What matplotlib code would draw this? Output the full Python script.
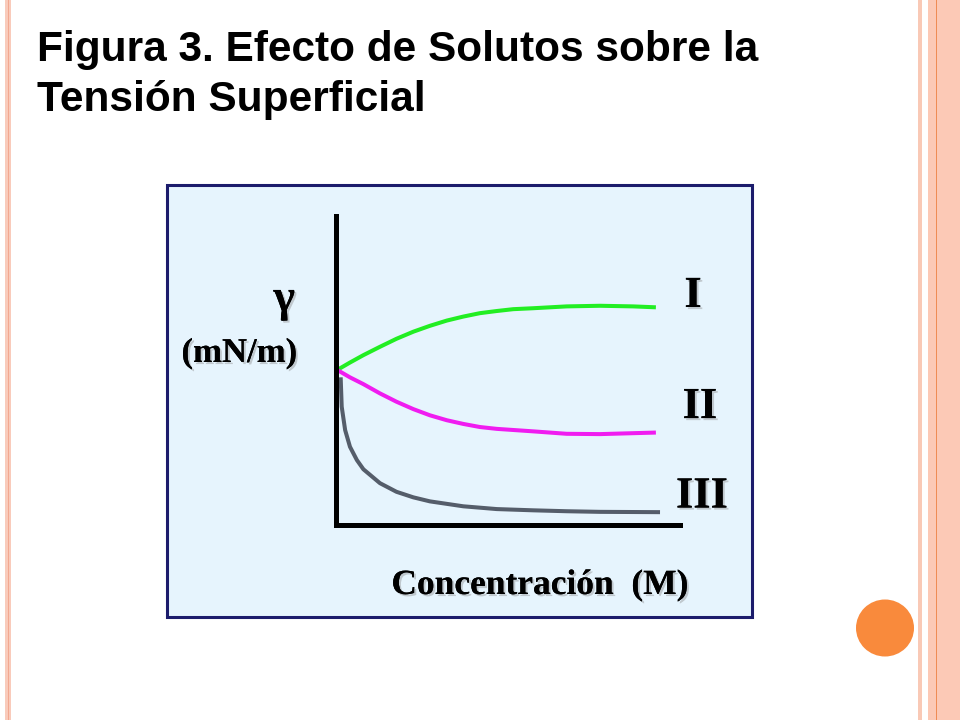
import matplotlib
matplotlib.use("Agg")
import matplotlib.pyplot as plt
import matplotlib.patheffects as pe
from matplotlib.patches import Rectangle, Ellipse

# curve data (concentration and gamma in arbitrary units)
conc_I = [0.05, 0.42, 0.81, 1.29, 1.77, 2.26, 2.74, 3.23, 3.71, 4.19, 4.68,
          5.16, 5.73, 6.71, 7.68, 8.64, 9.30]
gamma_I = [50.1, 52.5, 54.9, 57.6, 60.2, 62.5, 64.4, 66.1, 67.4, 68.5, 69.2,
           69.8, 70.1, 70.7, 70.9, 70.7, 70.4]

conc_II = [0.05, 0.42, 0.81, 1.29, 1.77, 2.26, 2.74, 3.23, 3.71, 4.19, 4.68,
           5.73, 6.71, 7.68, 8.64, 9.30]
gamma_II = [50.1, 47.7, 45.5, 42.5, 39.8, 37.4, 35.4, 33.8, 32.6, 31.6, 31.0,
            30.2, 29.4, 29.3, 29.6, 29.8]

conc_III = [0.15, 0.18, 0.28, 0.42, 0.62, 0.81, 1.29, 1.77, 2.26, 2.74, 3.71,
            4.68, 5.73, 6.71, 7.68, 9.42]
gamma_III = [47.7, 38.2, 30.6, 25.2, 20.9, 17.9, 13.4, 10.6, 8.8, 7.5, 5.9,
             5.0, 4.6, 4.3, 4.1, 4.0]

labels = ["I", "II", "III"]
colors = ["#22ee22", "#f01cf0", "#555d6a"]

W, H = 960, 720
fig = plt.figure(figsize=(9.6, 7.2), dpi=100)
fig.patch.set_facecolor("white")

# slide decoration, drawn in pixel coords
bg = fig.add_axes([0, 0, 1, 1])
bg.set_xlim(0, W)
bg.set_ylim(H, 0)
bg.axis("off")
bg.add_patch(Rectangle((5, 0), 6, H, color="#f9cbbb", lw=0))
bg.add_patch(Rectangle((7.5, 0), 1, H, color="#f2a890", lw=0))
bg.add_patch(Rectangle((918, 0), 4, H, color="#f9c9b6", lw=0))
bg.add_patch(Rectangle((928, 0), 32, H, color="#fcc9b6", lw=0))
bg.add_patch(Rectangle((936, 0), 1.2, H, color="#ef8c55", lw=0))
bg.add_patch(Ellipse((885, 628), 58, 57, color="#f98a3c", lw=0))

# panel box
bg.add_patch(Rectangle((167, 185), 585, 432, facecolor="#e6f4fd",
                       edgecolor="#1c1c6c", lw=2.2))

bg.text(37, 61, "Figura 3. Efecto de Solutos sobre la", fontsize=30.5,
        fontweight="bold", family="Liberation Sans", va="baseline")
bg.text(37, 111, "Tensión Superficial", fontsize=30.5,
        fontweight="bold", family="Liberation Sans", va="baseline")

shadow = [pe.withSimplePatchShadow(offset=(1.5, -1.5), shadow_rgbFace="#888888", alpha=0.4),
          pe.Normal()]
bg.text(295, 311, "γ", fontsize=33, fontweight="bold", family="Liberation Serif",
        ha="right", va="baseline", path_effects=shadow)
bg.text(297, 362, "(mN/m)", fontsize=25, fontweight="bold", family="Liberation Serif",
        ha="right", va="baseline", path_effects=shadow)
bg.text(540, 594, "Concentración  (M)", fontsize=25.5, fontweight="bold",
        family="Liberation Serif", ha="center", va="baseline", path_effects=shadow)

# the plot itself
ax = fig.add_axes([335.5 / W, 1 - 524.5 / H, 344.5 / W, 308.5 / H])
ax.set_facecolor("none")
ax.set_xlim(0, 10)
ax.set_ylim(0, 100)
for s in ["top", "right"]:
    ax.spines[s].set_visible(False)
for s in ["left", "bottom"]:
    ax.spines[s].set_linewidth(3.6)
    ax.spines[s].set_color("black")
    ax.spines[s].set_capstyle("projecting")
ax.set_xticks([])
ax.set_yticks([])

series = [(conc_I, gamma_I), (conc_II, gamma_II), (conc_III, gamma_III)]
for (xs, ys), c in zip(series, colors):
    ax.plot(xs, ys, color=c, lw=2.9, solid_capstyle="butt", solid_joinstyle="round")

label_pos = [(10.38, 70.5), (10.58, 34.5), (10.64, 5.5)]
for lab, (lx, ly) in zip(labels, label_pos):
    ax.text(lx, ly, lab, fontsize=32, fontweight="bold", family="Liberation Serif",
            ha="center", va="baseline", clip_on=False, path_effects=shadow)

fig.savefig("out.png", dpi=100)
